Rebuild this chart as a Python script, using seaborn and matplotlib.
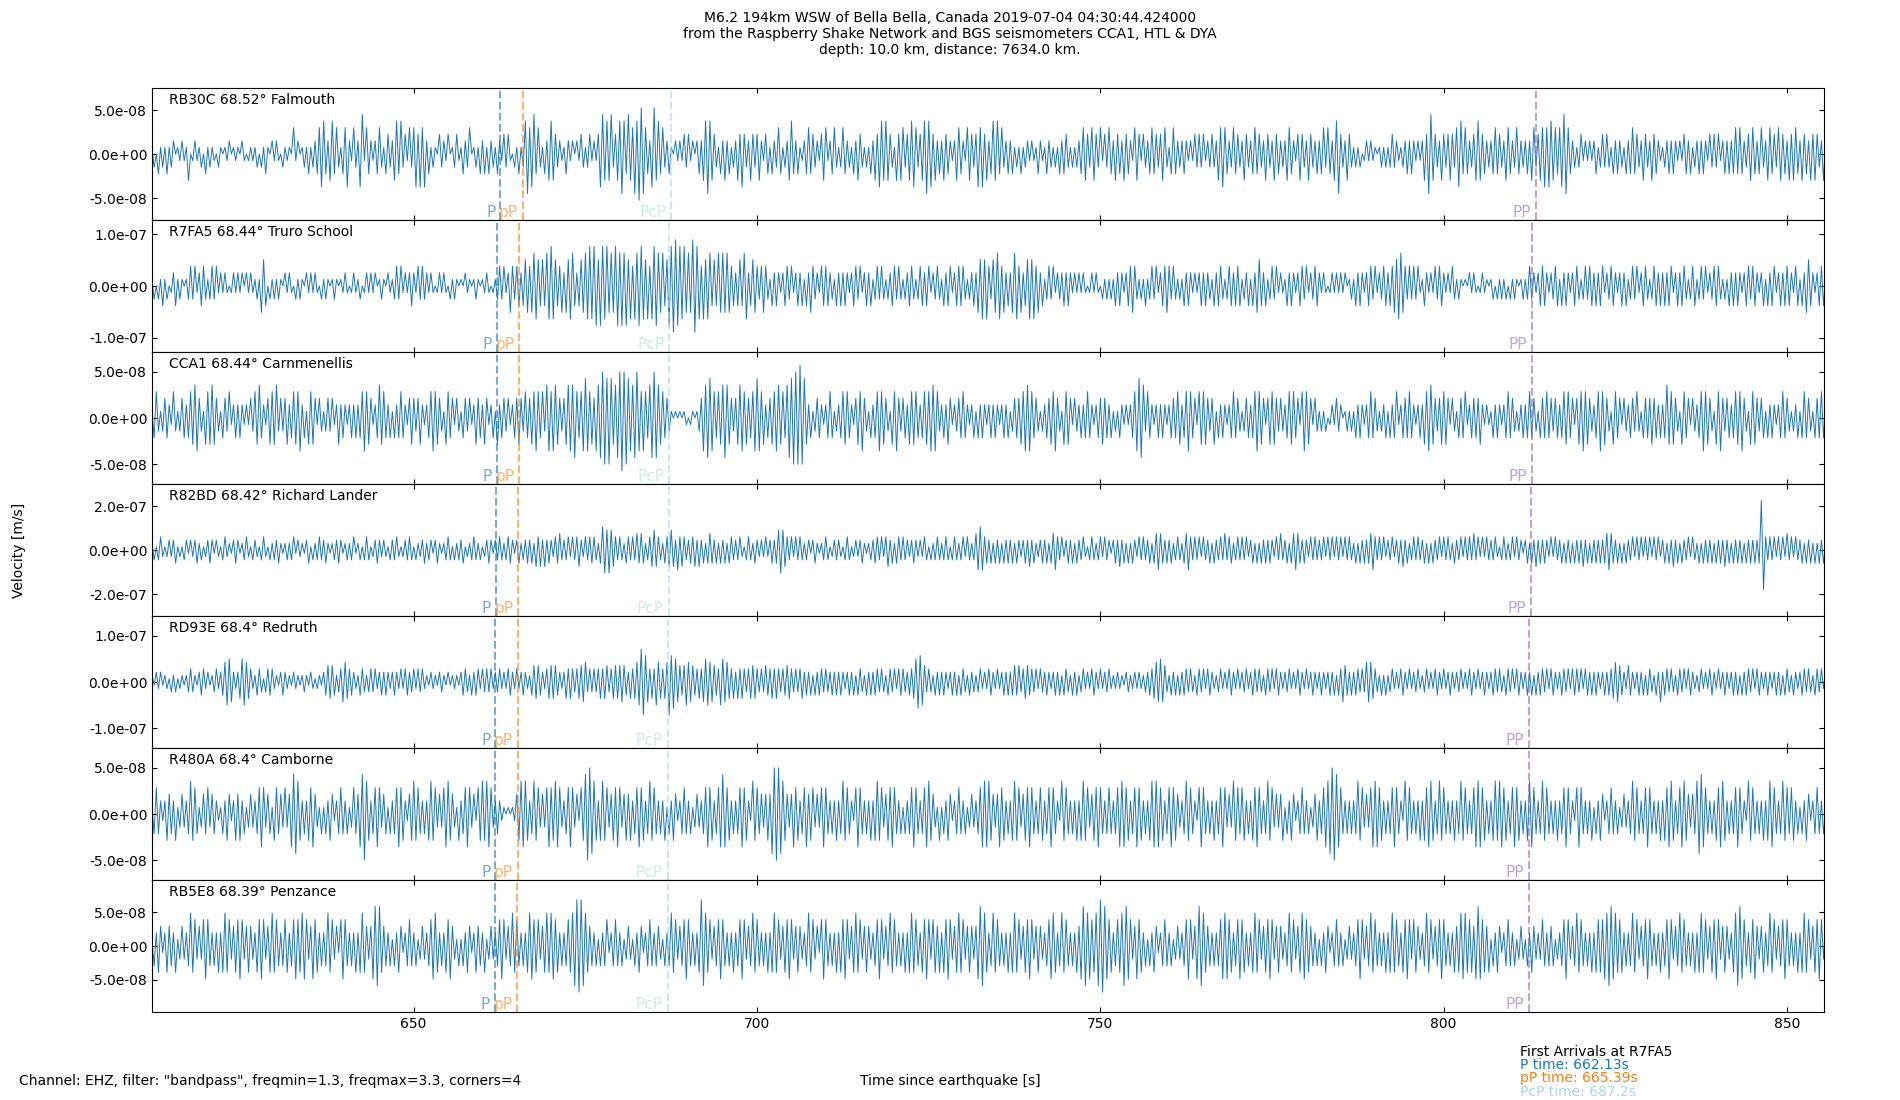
import numpy as np
import pandas as pd
import matplotlib
matplotlib.use('Agg')
import matplotlib.pyplot as plt
import seaborn as sns
from matplotlib.ticker import FormatStrFormatter

# Event / station info
title = ("M6.2 194km WSW of Bella Bella, Canada 2019-07-04 04:30:44.424000\n"
         "from the Raspberry Shake Network and BGS seismometers CCA1, HTL & DYA\n"
         "depth: 10.0 km, distance: 7634.0 km.")

stations = ['RB30C', 'R7FA5', 'CCA1', 'R82BD', 'RD93E', 'R480A', 'RB5E8']
distances = [68.52, 68.44, 68.44, 68.42, 68.4, 68.4, 68.39]
places = ['Falmouth', 'Truro School', 'Carnmenellis', 'Richard Lander',
          'Redruth', 'Camborne', 'Penzance']

# arrival times per station [s]
phases = ['P', 'pP', 'PcP', 'PP']
p_times = [662.62, 662.13, 662.13, 662.01, 661.89, 661.89, 661.83]
pp_depth_times = [665.88, 665.39, 665.39, 665.27, 665.15, 665.15, 665.09]
pcp_times = [687.53, 687.2, 687.2, 687.12, 687.04, 687.04, 687.0]
pp_times = [813.5, 812.85, 812.85, 812.7, 812.5, 812.5, 812.4]

# traces: successive peak/trough magnitudes (hex digits)
# in 5 s chunks of 16 extrema, amplitude unit per station below
trace_start = 611.9
extremum_step = 0.3125
trace_units = [7.5e-9, 1.28e-8, 7.1e-9, 1.5e-8, 7.1e-9, 7.1e-9, 9.8e-9]

rb30c = ["1203121312201121", "1401211203121102", "1011201110210111", "1202131021210211",
         "1041201213122345", "5324534213452142", "2561432123421332", "2453523142453545",
         "2312103221301231", "1322401213231322", "1321323102131256", "4563421324543221",
         "1321202132123121", "3564546234565364", "4657764325745342", "2310212132312023",
         "2456543213242312", "2435322432342133", "1322431224532311", "2343322134412342",
         "1243221324321213", "2435545432143442", "3455423456553423", "2433212443214432",
         "3545342354534223", "2312131221211321", "1322121323321212", "2344324432413243",
         "2433243321443132", "2343323442134322", "2321213232312232", "2445432243322432",
         "2343322432243322", "2443213432243223", "2342432456322432", "1212012121101212",
         "1232211223232121", "2436643224323432", "4553432234543322", "2343322443224322",
         "2324423445455443", "4566432212312121", "2312323213232213", "2343322432243321",
         "1223232121332312", "2323213232312323", "2343432234432342", "2443324433243443",
         "2433243432243323"]

r7fa5 = ["1202131201231210", "1232312332123231", "2121012121202121", "1214430212121021",
         "2102121021212102", "1210121011210121", "1201212120121021", "1232312123213232",
         "2121012121021210", "1021101210112101", "1232312432332344", "3455434355654334",
         "2445532344556566", "4665645466565645", "3556654535665453", "4667766564547765",
         "3545534354545433", "2343552344323432", "1323212332312323", "1324322133332213",
         "2323212332312323", "1232321223323212", "2332123323312232", "1323312333321223",
         "2445453244553423", "2455342345453423", "1232312223232121", "2121012121021212",
         "1323212334321213", "1232312334323212", "1323212123232213", "2332123323331223",
         "1324432312323121", "1323212332312233", "2121012121212012", "1323212332312233",
         "2334455432323231", "1321213233212132", "1210102121012110", "1202121202121012",
         "1232212333212233", "1323212332123233", "2323312233212323", "1232312332123323",
         "2323312323321233", "1232312233321213", "2323212332332123", "1323312323332133",
         "1324432123332121"]

cca1 = ["1342123321421233", "2344553214445432", "1332412323212132", "4453213444523234",
        "2344452314443132", "1232312423212323", "2345443123544323", "1323432134323421",
        "2345443214433132", "1332312433243123", "1423323123343243", "3445434255455432",
        "3455564345654435", "5677676456787765", "5675454356765443", "3210101011011012",
        "3556654344565432", "3455443345654423", "3445544356677787", "6423123321234312",
        "2344432134453213", "2345443214453233", "2444432344455542", "2324312233432123",
        "1323212323212323", "1233344555433212", "2334453214443132", "2323432123343323",
        "1213212123456652", "4321232321233344", "2345433144443234", "1323212343321233",
        "2345443134443232", "2344433145443132", "1212012132201212", "1323212343321223",
        "1323412333432123", "2445543234443132", "1333412333342121", "1323212343321223",
        "2343321333433233", "2344433134454432", "2345443214433132", "2332421333343323",
        "2354443214433132", "2345443214453233", "2344453214443233", "1323212343321223",
        "1343321333432123"]

r82bd = ["2313421232341213", "3132342312343132", "1342213431234213", "3213421323342123",
         "2341322134132343", "3421233431232341", "2313431234323213", "3342123343132234",
         "2331342123431323", "3412234323123431", "3343234431342334", "3425453534324453",
         "3342434532434443", "2477676543432443", "4354542345654324", "4565364543344535",
         "3424543424342443", "3342134324323242", "3434676543424343", "2331342123431233",
         "3213431232342123", "3443424534244343", "3234323243132343", "2343134323424323",
         "5676443424342434", "3424323435342234", "3424564342343424", "3342134323424331",
         "3435342424324343", "3424565434342343", "2456434342433424", "3343534423434342",
         "3424243434324353", "3424565434324343", "3342434243424343", "2424343456434342",
         "3342343534234343", "3424243342434324", "3342434353424243", "3342134323424331",
         "3424353434324243", "3424342434353424", "3434345654342424", "3342434243424342",
         "3424353424334243", "2424343424343534", "24343424343434fc", "4343424342534243",
         "3424342424343424"]

rd93e = ["2132312213231221", "2343213442312342", "3467763235776542", "2443134442213432",
         "2132212321321221", "3455542346654432", "2443234342343432", "3432424433424342",
         "2132213321312221", "3443243442434342", "3342324432423432", "2455543245555432",
         "3545434556634343", "4545534555565435", "4567aa8645476545", "6a88765457665445",
         "4677665447766545", "3545434555434354", "4545434455434345", "3434243443433434",
         "3432343424432434", "3443432443424443", "3445788753432434", "3432343424432433",
         "2342324432423434", "3454534554434243", "3432343424432434", "2342324432423342",
         "2232213322323223", "3445667653243424", "3443432443424432", "2342324432423342",
         "3443432443424432", "3342324432423432", "3432343424465434", "3443436665432424",
         "2342324432423342", "2342324432423432", "3342324432423432", "3443432443424432",
         "3434243443424432", "3443424443424434", "3432343445665432", "5432343424432436",
         "3443432443424432", "2342324432423432", "3434243443424432", "3432343424432432",
         "3443432443424432"]

r480a = ["1343212433241232", "2354431233423321", "1324312434231232", "2345423314433242",
         "3566542324453213", "1324312343231243", "3567542345423313", "2345442134544323",
         "2454423245543214", "2345423144545542", "2321101011345554", "2354423245445542",
         "2345423144677654", "2454423445423434", "2345442354432324", "1324312343231232",
         "2345442345654423", "2345442154433234", "3677765432354423", "4534423245432324",
         "2354432145432324", "2454423445432313", "2345432345543214", "1324312343231232",
         "2345555432354423", "2454423445432344", "2345432154432324", "2454423445432343",
         "2345554423454423", "2455554423454432", "2354432145432324", "2345423254434423",
         "2445432354423234", "1324312343231234", "2345567765432323", "2354423245554423",
         "2345432154432324", "2445542354432324", "2354432345554423", "2454554423454423",
         "2455432354432324", "2345432145432324", "1324312343231232", "2354432345432324",
         "2445542345543233", "5665432324455423", "2345432154432324", "2455432354434423",
         "1324312343231232"]

rb5e8 = ["1324312433241232", "2354423245432324", "2454423445423432", "2445423454432344",
         "2345445542354423", "2354423145432324", "2454323566643323", "1324312343231232",
         "2345542324453213", "1324312433241232", "2345423354432324", "5544423454554423",
         "2344567776543323", "1323412343231232", "1324312343233213", "2354423345432324",
         "7654423345432324", "2345423354432324", "2454423445423432", "2354423145432324",
         "2445423454423432", "2345423354432324", "2454432445424434", "2445423454423432",
         "3566542354432324", "2454423445423432", "2345542354432324", "3566554456776544",
         "2344566542354423", "1324312343231232", "2345423566543323", "2345554423454423",
         "2454423445423432", "2354423455443323", "1324312343231232", "2345423354432324",
         "2454432445424432", "2354423345432324", "3455544435654434", "1324312343231232",
         "1324322243233312", "2345423354432324", "2444455665544423", "2354423345432324",
         "2345423354432324", "2454423445423432", "2456654324453234", "2354423345432324",
         "2454423445423432"]

traces = [rb30c, r7fa5, cca1, r82bd, rd93e, r480a, rb5e8]

# axis styling per panel
y_limits = [7.5e-8, 1.28e-7, 7.1e-8, 3.0e-7, 1.42e-7, 7.1e-8, 9.8e-8]
y_ticks = [5e-8, 1e-7, 5e-8, 2e-7, 1e-7, 5e-8, 5e-8]
phase_colors = ['#1f77b4', '#ff7f0e', 'lightblue', '#9467bd']


def decode(chunks, unit):
    mags = np.array([int(c, 16) for c in ''.join(chunks)], dtype=float)
    signs = np.where(np.arange(len(mags)) % 2 == 0, 1.0, -1.0)
    t = trace_start + extremum_step * np.arange(len(mags))
    return pd.DataFrame({'time': t, 'velocity': mags * signs * unit})


sns.set_style('ticks', {'axes.edgecolor': 'black', 'xtick.color': 'black',
                        'ytick.color': 'black', 'text.color': 'black',
                        'axes.labelcolor': 'black'})
plt.rcParams['font.family'] = ['DejaVu Sans']
plt.rcParams['font.size'] = 10

fig, axes = plt.subplots(7, 1, figsize=(19, 11), dpi=100, sharex=True)
fig.subplots_adjust(left=0.08, right=0.96, top=0.92, bottom=0.08, hspace=0)

for i, ax in enumerate(axes):
    df = decode(traces[i], trace_units[i])
    sns.lineplot(data=df, x='time', y='velocity', ax=ax, color='#1f77b4',
                 lw=0.7, estimator=None)

    ax.set_xlim(611.9, 855.4)
    ax.set_ylim(-y_limits[i], y_limits[i])
    ax.set_yticks([y_ticks[i], 0, -y_ticks[i]])
    ax.yaxis.set_major_formatter(FormatStrFormatter('%.1e'))
    ax.set_xticks([650, 700, 750, 800, 850])
    ax.tick_params(direction='in', top=True, right=True, labelsize=10)
    ax.set_xlabel('')
    ax.set_ylabel('')

    arrivals = [p_times[i], pp_depth_times[i], pcp_times[i], pp_times[i]]
    for name, t, col in zip(phases, arrivals, phase_colors):
        ax.axvline(t, color=col, ls='--', lw=1.5, alpha=0.6)
        ax.annotate(name, xy=(t, -y_limits[i]), xytext=(-5, 0),
                    textcoords='offset pixels', ha='right', va='bottom',
                    color=col, alpha=0.6, fontsize=11)

    ax.text(0.01, 0.96, f'{stations[i]} {distances[i]}\u00b0 {places[i]}',
            transform=ax.transAxes, va='top', ha='left', fontsize=10)

fig.suptitle(title, y=0.99, fontsize=10)
fig.text(0.01, 0.5, 'Velocity [m/s]', rotation=90, ha='center', va='center')
fig.text(0.5, 0.014, 'Time since earthquake [s]', ha='center')
fig.text(0.01, 0.014, 'Channel: EHZ, filter: "bandpass", freqmin=1.3, '
         'freqmax=3.3, corners=4', ha='left')

fig.text(0.8, 0.040, 'First Arrivals at R7FA5', color='black')
fig.text(0.8, 0.028, f'P time: {p_times[1]}s', color=phase_colors[0])
fig.text(0.8, 0.016, f'pP time: {pp_depth_times[1]}s', color=phase_colors[1])
fig.text(0.8, 0.004, f'PcP time: {pcp_times[1]}s', color=phase_colors[2])

fig.savefig('out.png', dpi=100)
